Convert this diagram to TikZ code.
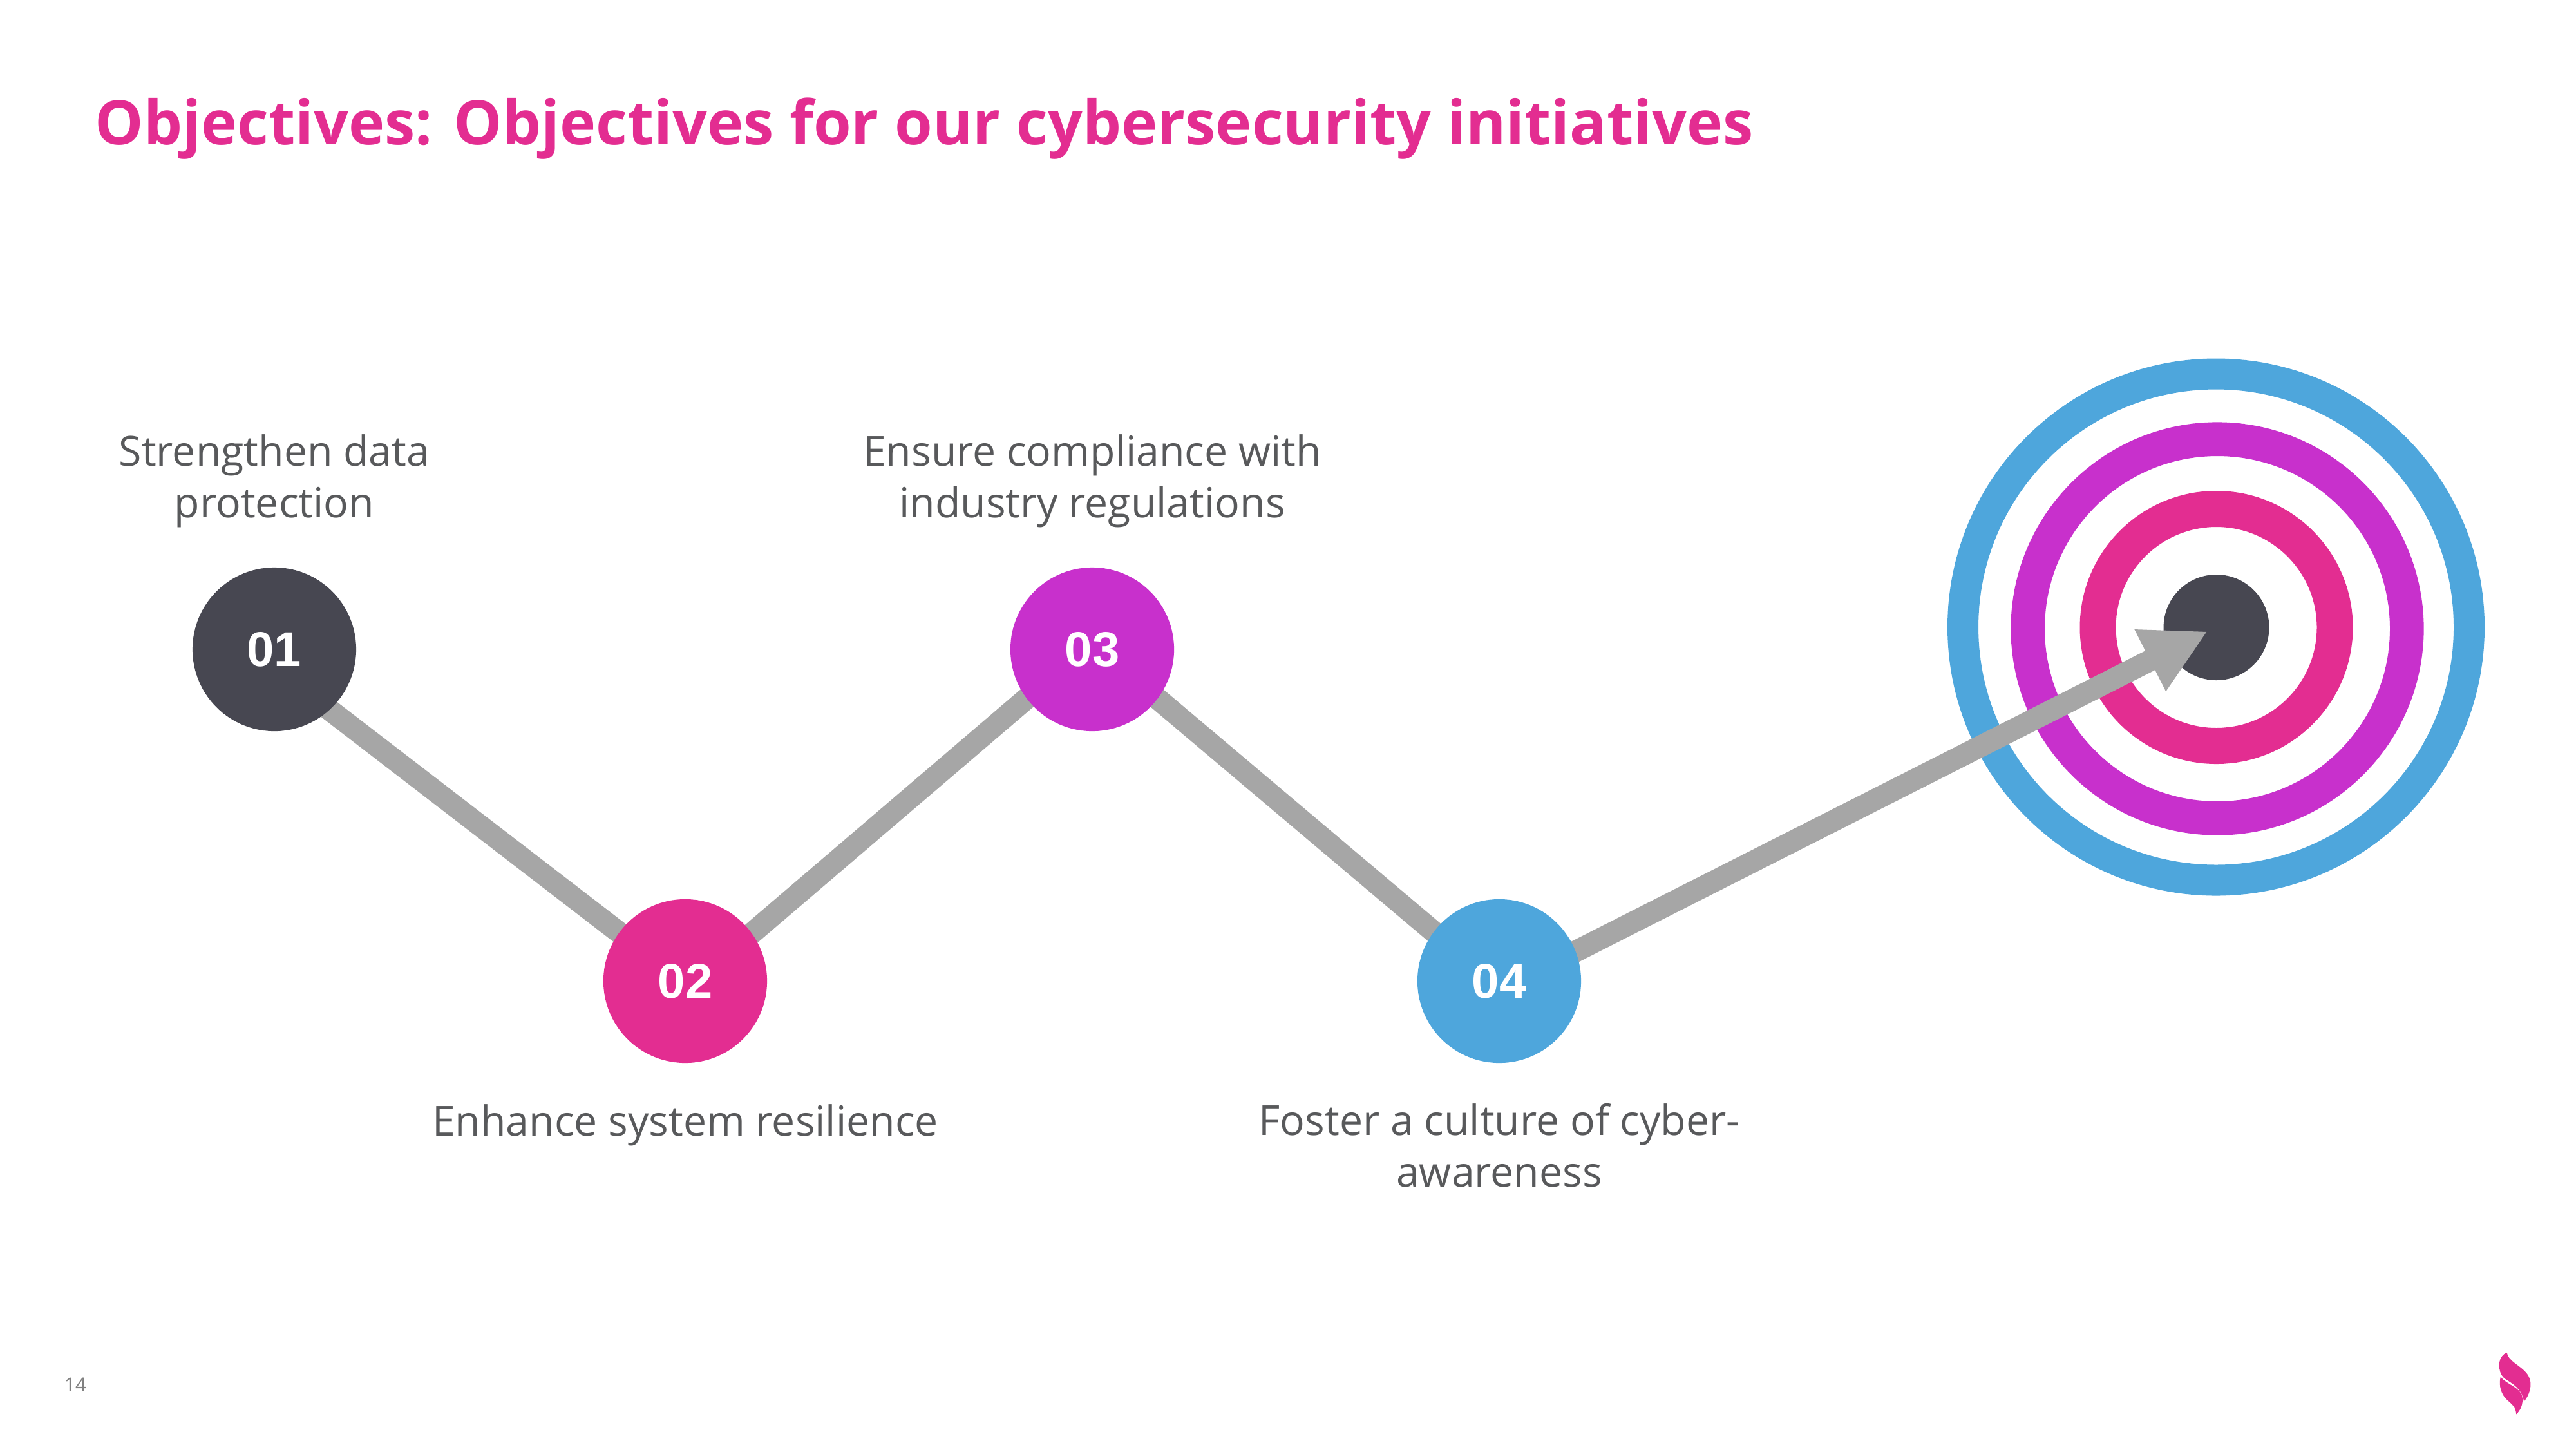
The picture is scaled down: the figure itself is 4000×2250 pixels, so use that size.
\documentclass[tikz,border=0pt]{standalone}
\usepackage{fontspec}
\setmainfont{Open Sans}
\newfontfamily\numfont{Liberation Sans}
\usetikzlibrary{arrows.meta}
\definecolor{inkdark}{HTML}{474751}
\definecolor{vivpink}{HTML}{E32D91}
\definecolor{vivpurple}{HTML}{C830CC}
\definecolor{vivblue}{HTML}{4EA6DC}
\definecolor{linkgrey}{HTML}{A6A6A6}
\definecolor{bodygrey}{HTML}{58595B}
\pgfdeclarelayer{rings}
\pgfdeclarelayer{links}
\pgfsetlayers{rings,links,main}
\tikzset{
  x=0.01cm,y=-0.01cm,
  stepdot/.style={circle,minimum size=2.54cm,inner sep=0pt,text=white,font=\numfont\bfseries\fontsize{21.6}{21.6}\selectfont},
  lbl/.style={align=center,text=bodygrey,inner sep=0pt,font=\fontsize{18.3}{22.5}\selectfont},
  link/.style={draw=linkgrey,line width=0.335cm},
  ring/.style={draw=#1,fill=none},
}
\begin{document}
\begin{tikzpicture}
\useasboundingbox (0,0) rectangle (4000,2250);
\node[anchor=base west,inner sep=0pt,text=vivpink,font=\bfseries\fontsize{27}{30}\selectfont] (title) at (147,224) {Objectives: Objectives for our cybersecurity initiatives};
\node[stepdot,fill=inkdark] (n1) at (426,1008) {01};
\node[stepdot,fill=vivpink] (n2) at (1064,1523) {02};
\node[stepdot,fill=vivpurple] (n3) at (1696,1008) {03};
\node[stepdot,fill=vivblue] (n4) at (2328,1523) {04};
\node[lbl,anchor=base] (l1) at (426,803) {Strengthen data\\protection};
\node[lbl,anchor=base] (l3) at (1696,803) {Ensure compliance with\\industry regulations};
\node[lbl,anchor=base] (l2) at (1064,1763) {Enhance system resilience};
\node[lbl,anchor=base] (l4) at (2328,1842) {Foster a culture of cyber-\\awareness};
\node[anchor=center,inner sep=0pt,text=gray,font=\fontsize{8.5}{10}\selectfont] (pg) at (117,2150) {14};
\begin{pgfonlayer}{rings}
\draw[ring=vivblue,line width=0.48cm] (3441,973.5) circle[radius=393];
\draw[ring=vivpurple,line width=0.526cm] (3443,976) circle[radius=294.3];
\draw[ring=vivpink,line width=0.56cm] (3441.5,974) circle[radius=184];
\fill[inkdark] (3441.5,974) circle[radius=82];
\end{pgfonlayer}
\coordinate (tip) at (3428,980);
\begin{pgfonlayer}{links}
\draw[link] ([yshift=-0.28cm]n1.center) -- ([yshift=-0.035cm]n2.center);
\draw[link] ([yshift=-0.142cm]n2.center) -- ([yshift=0.108cm]n3.center);
\draw[link] ([yshift=0.09cm]n3.center) -- ([yshift=-0.094cm]n4.center);
\draw[link,-{Triangle[length=1cm,width=1cm]}] ([yshift=-0.14cm]n4.center) -- (tip);
\end{pgfonlayer}
\begin{scope}[shift={(3800,2050)},x=0.00333cm,y=-0.00333cm]
\fill[vivpink] (278,150) .. controls (250,160) and (235,195) .. (246,235) .. controls (250,250) and (255,258) .. (262,265) .. controls (290,290) and (345,305) .. (358,378) .. controls (385,345) and (398,300) .. (382,265) .. controls (360,215) and (285,195) .. (278,150) -- cycle;
\fill[vivpink] (249,262) .. controls (240,300) and (248,345) .. (285,375) .. controls (310,395) and (322,415) .. (322,437) .. controls (345,415) and (355,385) .. (350,355) .. controls (340,310) and (270,295) .. (249,262) -- cycle;
\end{scope}
\end{tikzpicture}
\end{document}
